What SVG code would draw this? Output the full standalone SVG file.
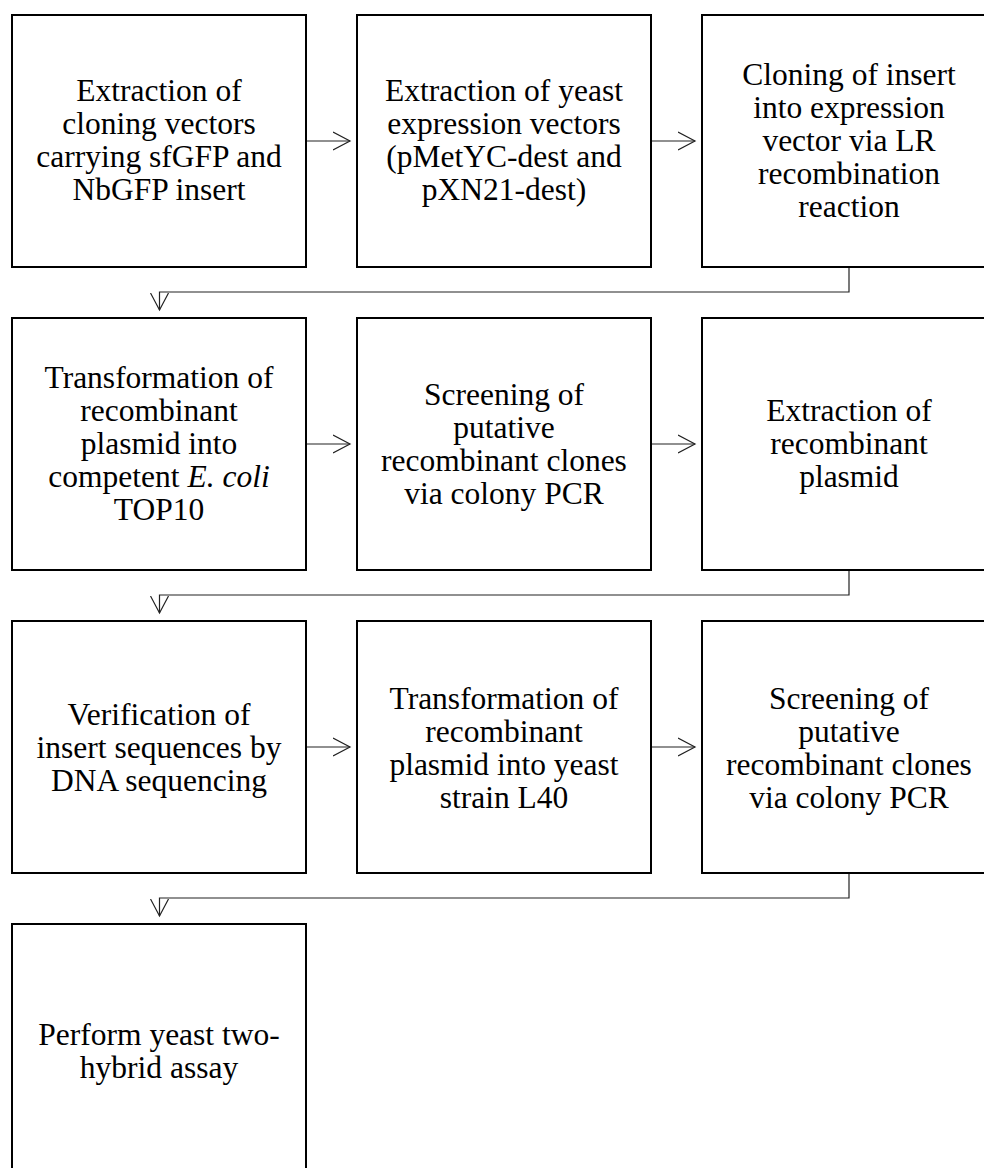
<svg xmlns="http://www.w3.org/2000/svg" width="984" height="1168" viewBox="0 0 984 1168">
<style>
.box{fill:#fff;stroke:#000;stroke-width:2}
.lbl{font-size:31.5px;fill:#000;text-anchor:middle}
.con{fill:none;stroke:#222;stroke-width:1.2}
</style>
<defs>
<marker id="ah" markerWidth="20" markerHeight="20" refX="17" refY="10" orient="auto" markerUnits="userSpaceOnUse">
<path d="M0,1 L17,10 L0,19" fill="none" stroke="#222" stroke-width="1.2"/>
</marker>
</defs>
<rect width="984" height="1168" fill="#fff"/>
<g id="connectors">
<path class="con" d="M306,141 H350" marker-end="url(#ah)"/>
<path class="con" d="M651,141 H695" marker-end="url(#ah)"/>
<path class="con" d="M849,267 V292 H159.5 V310" marker-end="url(#ah)"/>
<path class="con" d="M306,444 H350" marker-end="url(#ah)"/>
<path class="con" d="M651,444 H695" marker-end="url(#ah)"/>
<path class="con" d="M849,570 V595 H159.5 V613" marker-end="url(#ah)"/>
<path class="con" d="M306,747 H350" marker-end="url(#ah)"/>
<path class="con" d="M651,747 H695" marker-end="url(#ah)"/>
<path class="con" d="M849,873 V898 H159.5 V916" marker-end="url(#ah)"/>
</g>
<g font-family="Liberation Serif, Times New Roman, serif">
<g id="n1"><rect class="box" x="12" y="15" width="294" height="252"/>
<text class="lbl"><tspan x="159" y="101">Extraction of</tspan><tspan x="159" y="134">cloning vectors</tspan><tspan x="159" y="167">carrying sfGFP and</tspan><tspan x="159" y="200">NbGFP insert</tspan></text></g>
<g id="n2"><rect class="box" x="357" y="15" width="294" height="252"/>
<text class="lbl"><tspan x="504" y="101">Extraction of yeast</tspan><tspan x="504" y="134">expression vectors</tspan><tspan x="504" y="167">(pMetYC-dest and</tspan><tspan x="504" y="200">pXN21-dest)</tspan></text></g>
<g id="n3"><rect class="box" x="702" y="15" width="294" height="252"/>
<text class="lbl"><tspan x="849" y="84.5">Cloning of insert</tspan><tspan x="849" y="117.5">into expression</tspan><tspan x="849" y="150.5">vector via LR</tspan><tspan x="849" y="183.5">recombination</tspan><tspan x="849" y="216.5">reaction</tspan></text></g>
<g id="n4"><rect class="box" x="12" y="318" width="294" height="252"/>
<text class="lbl"><tspan x="159" y="388">Transformation of</tspan><tspan x="159" y="421">recombinant</tspan><tspan x="159" y="454">plasmid into</tspan><tspan x="159" y="487">competent <tspan font-style="italic">E. coli</tspan></tspan><tspan x="159" y="520">TOP10</tspan></text></g>
<g id="n5"><rect class="box" x="357" y="318" width="294" height="252"/>
<text class="lbl"><tspan x="504" y="404.5">Screening of</tspan><tspan x="504" y="437.5">putative</tspan><tspan x="504" y="470.5">recombinant clones</tspan><tspan x="504" y="503.5">via colony PCR</tspan></text></g>
<g id="n6"><rect class="box" x="702" y="318" width="294" height="252"/>
<text class="lbl"><tspan x="849" y="421">Extraction of</tspan><tspan x="849" y="454">recombinant</tspan><tspan x="849" y="487">plasmid</tspan></text></g>
<g id="n7"><rect class="box" x="12" y="621" width="294" height="252"/>
<text class="lbl"><tspan x="159" y="725">Verification of</tspan><tspan x="159" y="758">insert sequences by</tspan><tspan x="159" y="791">DNA sequencing</tspan></text></g>
<g id="n8"><rect class="box" x="357" y="621" width="294" height="252"/>
<text class="lbl"><tspan x="504" y="708.5">Transformation of</tspan><tspan x="504" y="741.5">recombinant</tspan><tspan x="504" y="774.5">plasmid into yeast</tspan><tspan x="504" y="807.5">strain L40</tspan></text></g>
<g id="n9"><rect class="box" x="702" y="621" width="294" height="252"/>
<text class="lbl"><tspan x="849" y="708.5">Screening of</tspan><tspan x="849" y="741.5">putative</tspan><tspan x="849" y="774.5">recombinant clones</tspan><tspan x="849" y="807.5">via colony PCR</tspan></text></g>
<g id="n10"><rect class="box" x="12" y="924" width="294" height="252"/>
<text class="lbl"><tspan x="159" y="1045">Perform yeast two-</tspan><tspan x="159" y="1078">hybrid assay</tspan></text></g>
</g>
</svg>
